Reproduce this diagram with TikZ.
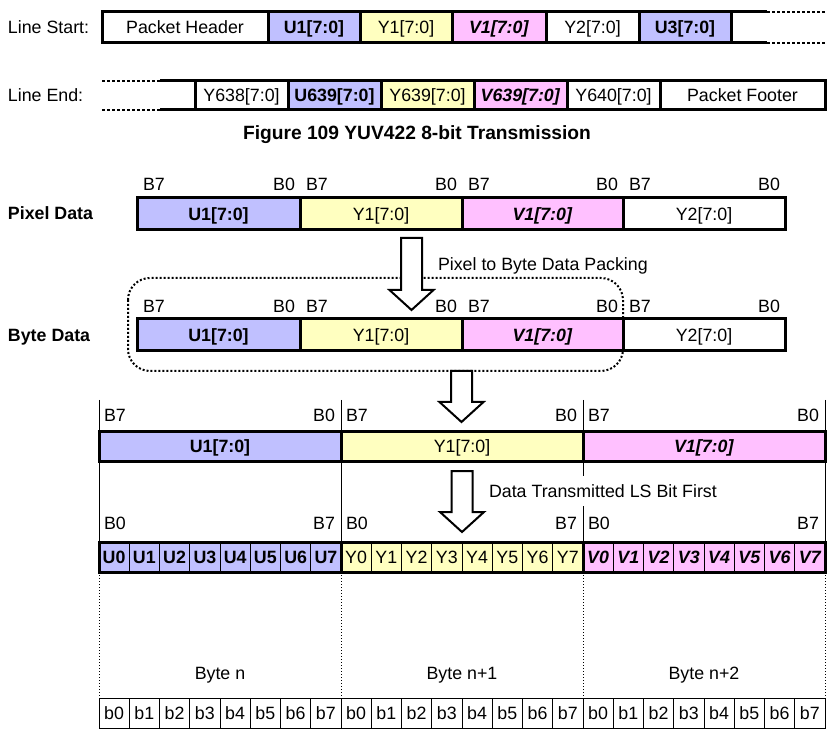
\documentclass[tikz,border=0pt]{standalone}
\usepackage{fontspec}
\setmainfont{Liberation Sans}
\usetikzlibrary{positioning}
\definecolor{ucol}{RGB}{192,192,255}
\definecolor{ycol}{RGB}{255,255,192}
\definecolor{vcol}{RGB}{255,192,255}
\newcommand{\hollowarrow}[3]{%
\draw[line width=2pt, fill=white] (#1-10.5,#2) -- (#1+10.5,#2) -- (#1+10.5,#3-20) -- (#1+22,#3-20)
  -- (#1,#3) -- (#1-22,#3-20) -- (#1-10.5,#3-20) -- cycle;}

\begin{document}
\begin{tikzpicture}[x=1pt, y=-1pt,
  every node/.style={inner sep=0pt, outer sep=0pt, font=\fontsize{17.8}{21}\selectfont,
    text height=16pt, text depth=3.4pt},
  cell/.style={draw, line width=3pt, anchor=north west},
  bit/.style={draw, line width=0.8pt, anchor=north west, minimum width=30.25pt, minimum height=30pt},
  thickline/.style={line width=3pt},
  dots/.style={line width=2.2pt, dash pattern=on 3pt off 2pt},
  vline/.style={line width=0.8pt},
  vdots/.style={line width=1pt, dotted}]
\useasboundingbox (0,0) rectangle (836,735);

% line start
\node[anchor=west] (lstxt) at (8,27) {Line Start:};
\foreach \lft/\rgt/\col/\txt [count=\i] in {102/268/white/Packet Header, 268/360/ucol/\textbf{U1[7:0]},
    360/452/ycol/Y1[7:0], 452/546/vcol/\textbf{\textit{V1[7:0]}}, 546/639/white/Y2[7:0], 639/731/ucol/\textbf{U3[7:0]}}
  \node[cell, fill=\col, minimum width=\rgt-\lft, minimum height=31] (ls\i) at (\lft,12) {\txt};
\coordinate (lsa) at (767,12);
\coordinate (lsb) at (825,12);
\coordinate (lsc) at (767,43);
\coordinate (lsd) at (825,43);
\draw[thickline] (ls6.north east) -- (lsa);
\draw[dots] (lsa) -- (lsb);
\draw[thickline] (ls6.south east) -- (lsc);
\draw[dots] (lsc) -- (lsd);

% line end
\node[anchor=west] (letxt) at (8,95) {Line End:};
\foreach \lft/\rgt/\col/\txt [count=\i] in {195/288/white/Y638[7:0], 288/381/ucol/\textbf{U639[7:0]},
    381/474/ycol/Y639[7:0], 474/567/vcol/\textbf{\textit{V639[7:0]}}, 567/660/white/Y640[7:0], 660/825/white/Packet Footer}
  \node[cell, fill=\col, minimum width=\rgt-\lft, minimum height=29] (le\i) at (\lft,81) {\txt};
\coordinate (lea) at (102,81);
\coordinate (leb) at (160,81);
\coordinate (lec) at (102,110);
\coordinate (led) at (160,110);
\draw[dots] (lea) -- (leb);
\draw[thickline] (leb) -- (le1.north west);
\draw[dots] (lec) -- (led);
\draw[thickline] (led) -- (le1.south west);

\node[font=\fontsize{19.2}{22}\selectfont\bfseries] (title) at (417,133) {Figure 109 YUV422 8-bit Transmission};

% pixel data / byte data
\node[anchor=west] (pdtxt) at (8,213) {\textbf{Pixel Data}};
\node[anchor=west] (bdtxt) at (8,335) {\textbf{Byte Data}};
\foreach \lft/\rgt/\col/\txt [count=\i] in {137/300/ucol/\textbf{U1[7:0]}, 300/462/ycol/Y1[7:0],
    462/623/vcol/\textbf{\textit{V1[7:0]}}, 623/785/white/Y2[7:0]} {
  \node[cell, fill=\col, minimum width=\rgt-\lft, minimum height=32] (pd\i) at (\lft,198) {\txt};
  \node[above right=4.5pt and 6pt of pd\i.north west] (pdm\i) {B7};
  \node[above left=4.5pt and 5pt of pd\i.north east] (pdz\i) {B0};
  \node[cell, fill=\col, minimum width=\rgt-\lft, minimum height=32] (bd\i) at (\lft,319) {\txt};
  \node[above right=2.7pt and 6pt of bd\i.north west] (bdm\i) {B7};
  \node[above left=2.7pt and 5pt of bd\i.north east] (bdz\i) {B0};
}
\draw[line width=2pt, dotted, rounded corners=22pt] (128,278) rectangle (623,371);
\hollowarrow{411.5}{238}{310}
\node[anchor=west] (packing) at (438,264) {Pixel to Byte Data Packing};

% transmitted data
\foreach \x [count=\i] in {99,341,583,825}
  \coordinate (tp\i) at (\x,400);
\foreach \col/\txt [count=\i] in {ucol/\textbf{U1[7:0]}, ycol/Y1[7:0], vcol/\textbf{\textit{V1[7:0]}}} {
  \node[cell, fill=\col, minimum width=242, minimum height=29] (wb\i) at ({99+(\i-1)*242},432) {\txt};
  \node[above right=7.4pt and 5pt of wb\i.north west] (wbm\i) {B7};
  \node[above left=7.4pt and 6pt of wb\i.north east] (wbz\i) {B0};
}
\foreach \g/\col/\p/\f in {0/ucol/U/\bfseries, 1/ycol/Y/\mdseries, 2/vcol/V/\bfseries\itshape} {
  \foreach \bt in {0,...,7} {
    \node[bit, fill=\col] (d\g\bt) at ({99+(\g*8+\bt)*30.25},542) {\f\p\bt};
    \node[bit] (tb\g\bt) at ({99+(\g*8+\bt)*30.25},698) {b\bt};
  }
  \node[above right=9pt and 5pt of d\g0.north west] (dz\g) {B0};
  \node[above left=9pt and 6pt of d\g7.north east] (dm\g) {B7};
}
\draw[thickline] (d00.north west) rectangle (d27.south east);
\draw[thickline] (d10.north west) -- (d10.south west);
\draw[thickline] (d20.north west) -- (d20.south west);
\foreach \g [count=\i] in {0,1,2} {
  \draw[vline] (tp\i) -- (d\g0.north west);
  \draw[vdots] (d\g0.south west) -- (tb\g0.north west);
}
\draw[vline] (tp4) -- (d27.north east);
\draw[vdots] (d27.south east) -- (tb27.north east);
\node[above=15.5pt of tb03.north east] (byte0) {Byte n};
\node[above=15.5pt of tb13.north east] (byte1) {Byte n+1};
\node[above=15.5pt of tb23.north east] (byte2) {Byte n+2};

\node[anchor=west, fill=white, inner ysep=5pt] (lsfirst) at (489,491) {Data Transmitted LS Bit First};
\hollowarrow{461.5}{371}{422}
\hollowarrow{462}{471}{532}
\end{tikzpicture}
\end{document}
